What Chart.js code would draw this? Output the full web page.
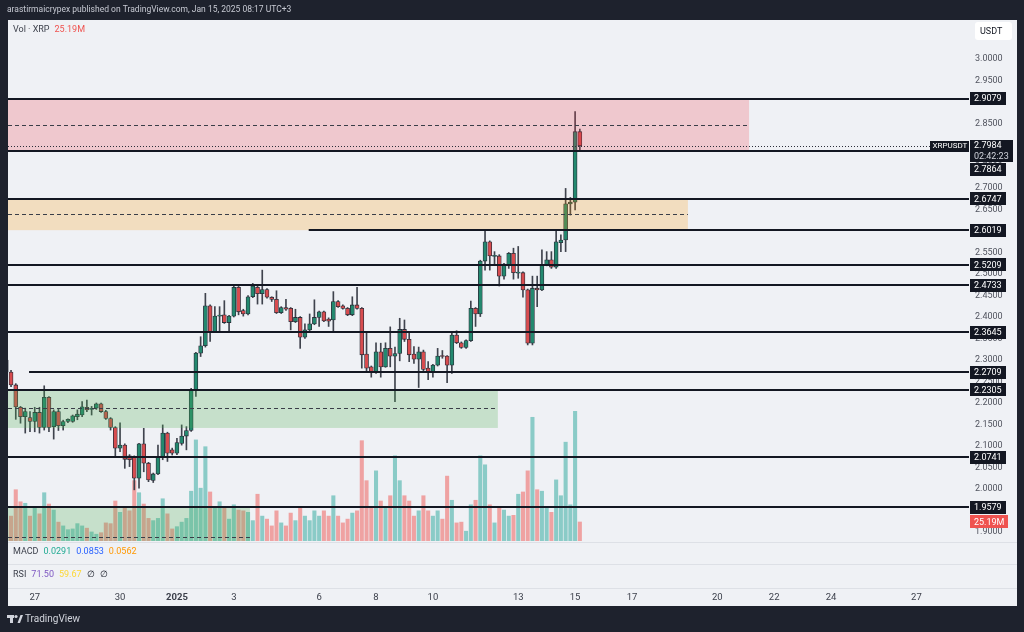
<!DOCTYPE html>
<html>
<head>
<meta charset="utf-8">
<script src="https://cdn.jsdelivr.net/npm/chart.js@4.4.1/dist/chart.umd.min.js"></script>
<style>
html,body{margin:0;padding:0;background:#1e222d;}
canvas{display:block;}
</style>
</head>
<body>
<canvas id="c" width="1024" height="632"></canvas>
<script>
'use strict'
// XRPUSDT 4h candles, index 0 = Dec 26 00:00, index 120 = Jan 15 00:00
let opens = [2.300,2.272,2.242,2.190,2.168,2.166,2.157,2.178,2.143,2.213,
 2.145,2.180,2.147,2.157,2.157,2.168,2.172,2.190,2.185,2.188,
 2.198,2.180,2.164,2.143,2.095,2.102,2.077,2.075,2.025,2.105,
 2.060,2.020,2.035,2.075,2.130,2.091,2.083,2.106,2.123,2.136,
 2.230,2.316,2.333,2.426,2.366,2.402,2.405,2.387,2.402,2.469,
 2.415,2.407,2.447,2.469,2.454,2.464,2.446,2.441,2.410,2.422,
 2.420,2.389,2.399,2.353,2.370,2.384,2.399,2.412,2.395,2.393,
 2.436,2.426,2.420,2.405,2.428,2.420,2.314,2.284,2.271,2.319,
 2.284,2.327,2.309,2.315,2.371,2.348,2.314,2.302,2.319,2.281,
 2.273,2.288,2.309,2.309,2.288,2.358,2.340,2.329,2.345,2.420,
 2.407,2.530,2.575,2.541,2.542,2.495,2.521,2.548,2.502,2.503,
 2.463,2.339,2.467,2.463,2.521,2.533,2.516,2.573,2.579,2.663,
 2.667,2.831];
let highs = [2.306,2.276,2.245,2.192,2.188,2.180,2.190,2.190,2.240,2.215,
 2.184,2.185,2.160,2.163,2.172,2.184,2.203,2.207,2.192,2.200,
 2.200,2.183,2.166,2.145,2.154,2.105,2.080,2.077,2.106,2.141,
 2.062,2.037,2.102,2.149,2.132,2.095,2.118,2.149,2.145,2.234,
 2.318,2.354,2.455,2.428,2.424,2.424,2.438,2.404,2.472,2.471,
 2.418,2.450,2.478,2.472,2.509,2.466,2.447,2.461,2.424,2.441,
 2.422,2.418,2.401,2.384,2.407,2.440,2.414,2.414,2.398,2.459,
 2.438,2.428,2.422,2.447,2.469,2.422,2.366,2.286,2.340,2.339,
 2.340,2.377,2.330,2.397,2.393,2.362,2.331,2.330,2.323,2.296,
 2.290,2.327,2.322,2.310,2.362,2.368,2.342,2.347,2.437,2.422,
 2.532,2.601,2.577,2.552,2.545,2.525,2.550,2.560,2.564,2.505,
 2.465,2.495,2.495,2.556,2.552,2.552,2.602,2.591,2.699,2.678,
 2.878,2.837];
let lows = [2.268,2.238,2.162,2.153,2.130,2.133,2.133,2.130,2.137,2.133,
 2.116,2.136,2.137,2.154,2.155,2.161,2.168,2.180,2.172,2.185,
 2.178,2.162,2.137,2.074,2.087,2.048,2.052,1.998,2.002,2.040,
 2.017,2.015,2.033,2.068,2.064,2.079,2.080,2.102,2.091,2.134,
 2.215,2.308,2.330,2.343,2.364,2.366,2.385,2.366,2.400,2.405,
 2.402,2.405,2.445,2.430,2.430,2.444,2.436,2.408,2.408,2.415,
 2.370,2.387,2.327,2.350,2.364,2.382,2.378,2.389,2.378,2.368,
 2.422,2.418,2.403,2.403,2.418,2.281,2.271,2.260,2.269,2.260,
 2.283,2.284,2.203,2.298,2.343,2.296,2.292,2.236,2.273,2.254,
 2.260,2.286,2.304,2.247,2.269,2.338,2.327,2.327,2.343,2.378,
 2.401,2.509,2.509,2.521,2.472,2.488,2.513,2.488,2.490,2.446,
 2.335,2.335,2.424,2.461,2.519,2.513,2.513,2.552,2.552,2.637,
 2.649,2.785];
let closes = [2.272,2.242,2.191,2.168,2.180,2.157,2.178,2.143,2.213,2.143,
 2.180,2.147,2.157,2.162,2.170,2.174,2.191,2.184,2.186,2.198,
 2.180,2.164,2.143,2.095,2.102,2.069,2.068,2.025,2.105,2.060,
 2.021,2.035,2.075,2.130,2.083,2.083,2.108,2.123,2.136,2.230,
 2.316,2.333,2.426,2.366,2.402,2.404,2.387,2.402,2.469,2.412,
 2.407,2.447,2.472,2.454,2.464,2.446,2.441,2.410,2.422,2.418,
 2.389,2.399,2.353,2.370,2.384,2.399,2.412,2.391,2.390,2.436,
 2.424,2.420,2.405,2.428,2.420,2.312,2.281,2.271,2.319,2.284,
 2.327,2.309,2.315,2.371,2.348,2.312,2.302,2.319,2.278,2.273,
 2.288,2.309,2.308,2.288,2.358,2.340,2.329,2.345,2.420,2.407,
 2.530,2.575,2.542,2.542,2.495,2.523,2.548,2.503,2.503,2.463,
 2.339,2.467,2.463,2.521,2.533,2.516,2.575,2.579,2.663,2.667,
 2.831,2.7984];
// volume in millions XRP
let volumes = [27,33,68,52,50,33,44,36,64,49,
 41,25,20,15,16,23,20,17,12,9,
 11,24,23,53,38,46,40,80,64,49,
 30,27,30,56,36,16,19,25,30,66,
 134,70,125,65,44,52,46,29,48,41,
 40,38,27,62,33,29,20,40,24,20,
 37,27,46,33,27,40,33,40,33,60,
 33,24,29,37,40,133,80,46,93,53,
 46,60,113,80,60,53,33,40,60,40,
 33,40,29,86,54,24,25,13,48,54,
 113,101,48,24,46,41,33,34,62,65,
 93,164,68,66,44,38,81,60,131,48,
 172,25.19];

let dayTickPos = [6,24,36,48,66,78,90,108,120,132,150,162,174,192];
let dayTickLabels = ['27','30','2025','3','6','8','10','13','15','17','20','22','24','27'];
let priceTicks = [1.90,1.95,2.00,2.05,2.10,2.15,2.20,2.25,2.30,2.35,2.40,2.45,2.50,2.55,2.60,2.65,2.70,2.75,2.80,2.85,2.90,2.95,3.00];

// drawn levels (price, first candle index where the line starts)
let levelPrices = [2.9079,2.7864,2.6747,2.6019,2.5209,2.4733,2.3645,2.2709,2.2305,2.0741,1.9579];
let levelStart = [0,0,0,63.8,0,0,0,4.8,0,0,0];

// zones: top, bottom, dashed middle, end index
let zoneTop = [2.9079,2.6747,2.2305,1.9579];
let zoneBottom = [2.7864,2.6019,2.1419,1.84];
let zoneMid = [2.8465,2.6395,2.1884,1.889];
let zoneEnd = [156.7,143.8,103.7,51.4];
let zoneFill = ['rgba(242,54,69,0.22)','rgba(255,152,0,0.22)','rgba(76,175,80,0.25)','rgba(76,175,80,0.25)'];

let lastPrice = 2.7984;

let upC = '#23896f', dnC = '#d84c4f';
let bodyData = [], wickData = [], volData = [], bodyCol = [], volCol = [];
for (let i = 0; i < opens.length; i++) {
    let up = closes[i] >= opens[i];
    bodyData.push({x: i, y: [Math.min(opens[i], closes[i]), Math.max(opens[i], closes[i])]});
    wickData.push({x: i, y: [lows[i], highs[i]]});
    volData.push({x: i, y: volumes[i]});
    bodyCol.push(up ? upC : dnC);
    volCol.push(up ? 'rgba(38,166,154,0.5)' : 'rgba(239,83,80,0.5)');
}

function box(ctx, x, yc, w, h, bg, lines, fg, pad) {
    ctx.fillStyle = bg;
    ctx.fillRect(x, Math.round(yc - h / 2), w, h);
    ctx.fillStyle = fg;
    ctx.textAlign = 'left';
    ctx.textBaseline = 'middle';
    ctx.fillText(lines, x + (pad || 4), yc + 0.5);
}

const overlay = {
    id: 'overlay',
    beforeDraw(chart) {
        let ctx = chart.ctx;
        ctx.save();
        ctx.fillStyle = '#1e222d';
        ctx.fillRect(0, 0, 1024, 632);
        ctx.fillStyle = '#eff1f5';
        ctx.fillRect(8, 20, 1009, 586);
        // header
        ctx.fillStyle = '#c7cad3';
        ctx.font = '8.5px Roboto';
        ctx.textBaseline = 'middle';
        ctx.fillText('arastirmaicrypex published on TradingView.com, Jan 15, 2025 08:17 UTC+3', 7, 10);
        // footer logo
        ctx.fillStyle = '#d1d4dc';
        ctx.fillRect(7, 615, 7, 3);
        ctx.fillRect(10, 615, 3, 8);
        ctx.beginPath();
        ctx.arc(16, 616.5, 1.6, 0, Math.PI * 2);
        ctx.fill();
        ctx.beginPath();
        ctx.moveTo(17.5, 623); ctx.lineTo(20.5, 615); ctx.lineTo(23, 615); ctx.lineTo(20, 623);
        ctx.closePath();
        ctx.fill();
        ctx.font = '10px Roboto';
        ctx.fillText('TradingView', 25, 619.5);
        // pane separators
        ctx.fillStyle = '#dde0e6';
        ctx.fillRect(8, 542, 1009, 1);
        ctx.fillRect(8, 564, 1009, 1);
        ctx.fillRect(8, 588, 1009, 1);
        ctx.restore();
    },
    afterDatasetsDraw(chart) {
        let ctx = chart.ctx, a = chart.chartArea, x = chart.scales.x, y = chart.scales.y;
        ctx.save();
        ctx.beginPath();
        ctx.rect(a.left, a.top, a.right - a.left, a.bottom - a.top);
        ctx.clip();
        for (let i = 0; i < zoneTop.length; i++) {
            let t = y.getPixelForValue(zoneTop[i]), b = y.getPixelForValue(zoneBottom[i]);
            let r = x.getPixelForValue(zoneEnd[i]);
            ctx.fillStyle = zoneFill[i];
            ctx.fillRect(a.left, t, r - a.left, b - t);
            let m = Math.round(y.getPixelForValue(zoneMid[i])) + 0.5;
            ctx.strokeStyle = '#3a3e48';
            ctx.lineWidth = 1;
            ctx.setLineDash([4, 3]);
            ctx.beginPath();
            ctx.moveTo(a.left, m); ctx.lineTo(r, m);
            ctx.stroke();
        }
        ctx.setLineDash([]);
        ctx.strokeStyle = '#131722';
        ctx.lineWidth = 2;
        for (let i = 0; i < levelPrices.length; i++) {
            let ly = Math.round(y.getPixelForValue(levelPrices[i]));
            let lx = levelStart[i] > 0 ? x.getPixelForValue(levelStart[i]) : a.left;
            ctx.beginPath();
            ctx.moveTo(lx, ly); ctx.lineTo(a.right, ly);
            ctx.stroke();
        }
        // last price line
        let py = Math.round(y.getPixelForValue(lastPrice)) + 0.5;
        ctx.lineWidth = 1;
        ctx.strokeStyle = '#2a2e39';
        ctx.setLineDash([1, 2]);
        ctx.beginPath();
        ctx.moveTo(a.left, py); ctx.lineTo(a.right, py);
        ctx.stroke();
        ctx.restore();
    },
    afterDraw(chart) {
        let ctx = chart.ctx, a = chart.chartArea, y = chart.scales.y, yv = chart.scales.yv;
        ctx.save();
        // last price block
        let py = y.getPixelForValue(lastPrice);
        let pTop = Math.round(py - 6), pBot = Math.round(py + 16);
        ctx.font = '8px Roboto';
        box(ctx, a.right - 39, py, 39, 10, '#131722', 'XRPUSDT', '#ffffff', 2.5);
        ctx.font = '9px Roboto';
        ctx.fillStyle = '#131722';
        ctx.fillRect(a.right + 1, pTop, 43, pBot - pTop);
        ctx.fillStyle = '#ffffff';
        ctx.textBaseline = 'middle';
        ctx.fillText(lastPrice.toFixed(4), a.right + 5, py + 0.5);
        ctx.fillStyle = '#d1d4dc';
        ctx.fillText('02:42:23', a.right + 5, py + 11);
        // level labels
        for (let i = 0; i < levelPrices.length; i++) {
            let ly = y.getPixelForValue(levelPrices[i]);
            if (ly + 6.5 > pTop && ly - 6.5 < pBot) ly = pBot + 7;
            box(ctx, a.right + 1, ly, 36, 13, '#131722', levelPrices[i].toFixed(4), '#ffffff');
        }
        // volume label
        let vy = yv.getPixelForValue(volumes[volumes.length - 1]);
        box(ctx, a.right + 1, vy, 38, 13, '#ef5350', '25.19M', '#ffffff');
        // currency box
        ctx.fillStyle = '#ffffff';
        ctx.beginPath();
        ctx.roundRect(975, 22, 37, 18, 3);
        ctx.fill();
        ctx.fillStyle = '#131722';
        ctx.textAlign = 'left';
        ctx.fillText('USDT', 980, 31.5);
        // pane legends
        let row = (items, yy) => {
            let xx = 13;
            for (let it of items) {
                ctx.fillStyle = it[1];
                ctx.fillText(it[0], xx, yy);
                xx += ctx.measureText(it[0]).width + 5;
            }
        };
        row([['Vol \u00b7 XRP', '#3b3f4a'], ['25.19M', '#ef5350']], 29.5);
        row([['MACD', '#3b3f4a'], ['0.0291', '#22ab94'], ['0.0853', '#2962ff'], ['0.0562', '#ff9800']], 551.5);
        row([['RSI', '#3b3f4a'], ['71.50', '#7e57c2'], ['59.67', '#fdd835'], ['\u2205', '#131722'], ['\u2205', '#131722']], 575);
        ctx.restore();
    }
};

let ctx = document.getElementById('c').getContext('2d');
let chart = new Chart(ctx, {
    type: 'bar',
    data: {
        datasets: [
            {label: 'body', data: bodyData, backgroundColor: bodyCol, borderColor: '#2a2e39', borderWidth: 0.8,
             borderSkipped: false, barThickness: 4, minBarLength: 1, grouped: false, order: 1, yAxisID: 'y'},
            {label: 'wick', data: wickData, backgroundColor: '#3f434d', barThickness: 1, grouped: false, order: 2, yAxisID: 'y'},
            {label: 'volume', data: volData, backgroundColor: volCol, barThickness: 3.4, grouped: false, order: 3, yAxisID: 'yv'}
        ]
    },
    options: {
        responsive: false,
        animation: false,
        devicePixelRatio: 1,
        layout: {padding: {left: 8, top: 20, right: 7, bottom: 26}},
        plugins: {legend: {display: false}, tooltip: {enabled: false}},
        scales: {
            x: {
                type: 'linear', min: 0.36, max: 203.1, offset: false,
                grid: {display: false, drawTicks: false}, border: {display: false},
                afterBuildTicks: s => { s.ticks = dayTickPos.map(v => ({value: v})); },
                afterFit: s => { s.height = 65; s.paddingLeft = 0; s.paddingRight = 0; },
                ticks: {
                    padding: 51, autoSkip: false, maxRotation: 0, color: '#3b3f4a',
                    font: c => ({family: 'Roboto', size: 9.5, weight: dayTickLabels[c.index] === '2025' ? 'bold' : 'normal'}),
                    callback: (v, i) => dayTickLabels[i]
                }
            },
            y: {
                type: 'linear', position: 'right', min: 1.879, max: 3.0907,
                grid: {display: false, drawTicks: false}, border: {display: false},
                afterBuildTicks: s => { s.ticks = priceTicks.map(v => ({value: v})); },
                afterFit: s => { s.width = 48; s.paddingTop = 0; s.paddingBottom = 0; },
                ticks: {padding: 6, color: '#50535e', font: {family: 'Roboto', size: 9}, callback: v => v.toFixed(4)}
            },
            yv: {type: 'linear', display: false, min: 0, max: 690.7}
        }
    },
    plugins: [overlay]
});
</script>
</body>
</html>
